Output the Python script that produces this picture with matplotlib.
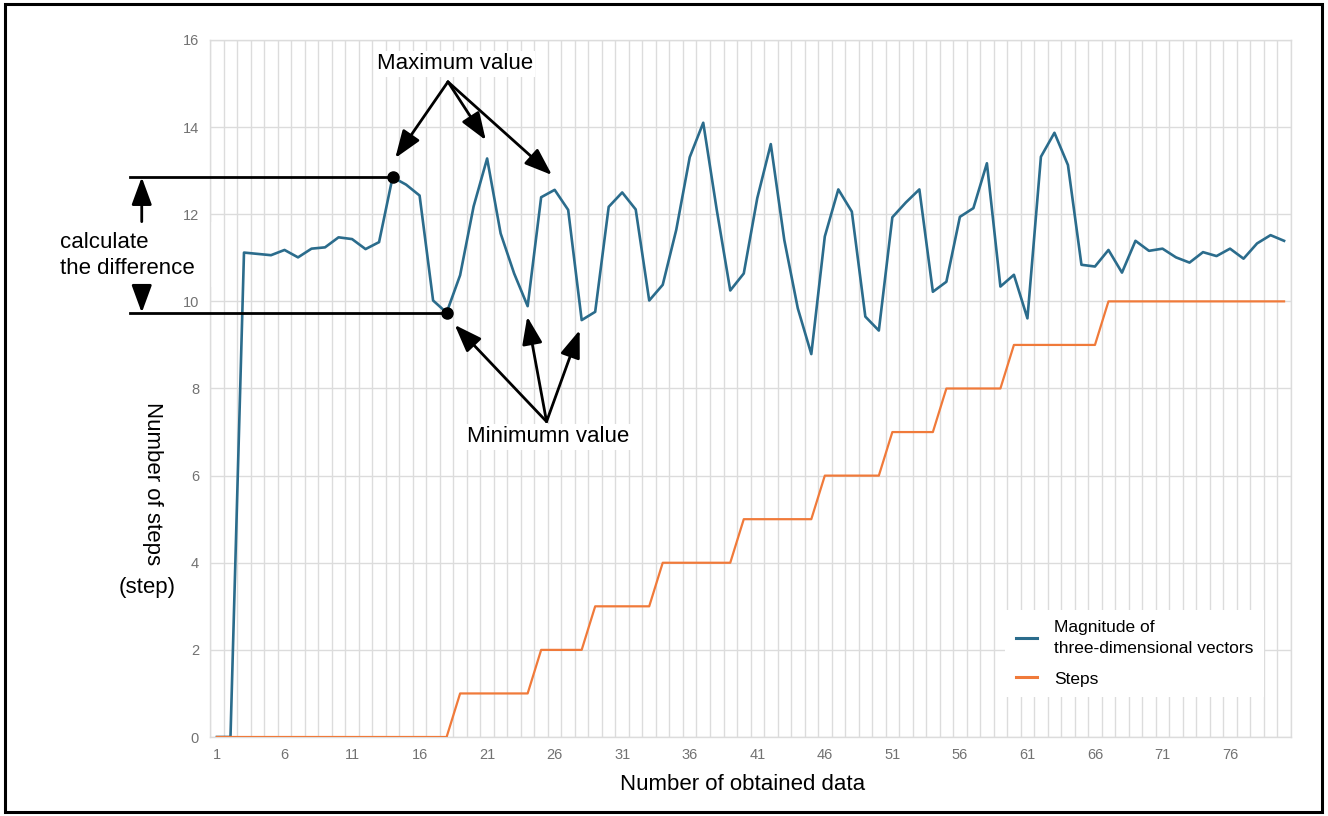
import numpy as np
import matplotlib
matplotlib.use("Agg")
import matplotlib.pyplot as plt
from matplotlib.patches import Rectangle

plt.rcParams["font.family"] = ["Liberation Sans", "DejaVu Sans"]

# --- data ---
samples = np.arange(1, 81)
magnitude = [0, 0, 11.12, 11.09, 11.06, 11.18, 11.01, 11.21, 11.24, 11.47,
             11.43, 11.20, 11.36, 12.85, 12.68, 12.43, 10.02, 9.74, 10.60, 12.18,
             13.28, 11.56, 10.64, 9.89, 12.39, 12.56, 12.10, 9.57, 9.76, 12.17,
             12.50, 12.11, 10.02, 10.38, 11.64, 13.31, 14.10, 12.10, 10.25, 10.64,
             12.37, 13.61, 11.41, 9.84, 8.79, 11.49, 12.57, 12.06, 9.65, 9.33,
             11.93, 12.27, 12.57, 10.22, 10.45, 11.94, 12.14, 13.17, 10.34, 10.61,
             9.61, 13.32, 13.87, 13.13, 10.84, 10.80, 11.18, 10.66, 11.39, 11.16,
             11.21, 11.01, 10.89, 11.13, 11.04, 11.21, 10.98, 11.33, 11.52, 11.39]
steps = [0, 0, 0, 0, 0, 0, 0, 0, 0, 0,
         0, 0, 0, 0, 0, 0, 0, 0, 1, 1,
         1, 1, 1, 1, 2, 2, 2, 2, 3, 3,
         3, 3, 3, 4, 4, 4, 4, 4, 4, 5,
         5, 5, 5, 5, 5, 6, 6, 6, 6, 6,
         7, 7, 7, 7, 8, 8, 8, 8, 8, 9,
         9, 9, 9, 9, 9, 9, 10, 10, 10, 10,
         10, 10, 10, 10, 10, 10, 10, 10, 10, 10]
xticks = [1, 6, 11, 16, 21, 26, 31, 36, 41, 46, 51, 56, 61, 66, 71, 76]
max_idx = [14, 21, 26]
min_idx = [18, 24, 28]

BLUE = "#2b6c8c"
ORANGE = "#f07a3a"
GRID = "#dcdcdc"

fig = plt.figure(figsize=(13.28, 8.16), dpi=100)
ax = fig.add_axes([0.1583, 0.0968, 0.8137, 0.8542])

ax.plot(samples, magnitude, color=BLUE, lw=1.9, zorder=3,
        label="Magnitude of\nthree-dimensional vectors")
ax.plot(samples, steps, color=ORANGE, lw=1.6, zorder=3, label="Steps")

ax.set_xlim(0.5, 80.5)
ax.set_ylim(0, 16)
ax.set_xticks(xticks)
ax.set_xticks(np.arange(0.5, 81, 1), minor=True)
ax.set_yticks(np.arange(0, 17, 2))
ax.tick_params(which="both", length=0, labelsize=10.5, labelcolor="#727272", pad=8)
ax.set_axisbelow(True)
ax.grid(axis="x", which="minor", color=GRID, lw=1)
ax.grid(axis="y", which="major", color=GRID, lw=1)
for s in ax.spines.values():
    s.set_color(GRID)
    s.set_linewidth(1)

# --- labels ---
fig.text(743 / 1328, 1 - 785 / 816, "Number of obtained data", fontsize=16,
         ha="center", va="center")
fig.text(153 / 1328, 1 - 484 / 816, "Number of steps", fontsize=16,
         ha="center", va="center", rotation=270)
fig.text(147 / 1328, 1 - 587 / 816, "(step)", fontsize=16, ha="center", va="center")

# --- annotations ---
y_max = magnitude[max_idx[0] - 1]
y_min = magnitude[min_idx[0] - 1]
x_left = -5.45
ax.plot([x_left, max_idx[0]], [y_max, y_max], color="black", lw=2, clip_on=False, zorder=5)
ax.plot([x_left, min_idx[0]], [y_min, y_min], color="black", lw=2, clip_on=False, zorder=5)
ax.plot([max_idx[0], min_idx[0]], [y_max, y_min], "o", color="black", ms=8,
        clip_on=False, zorder=6)

arrow = dict(arrowstyle="-|>,head_length=0.6,head_width=0.22", color="black", lw=2,
             mutation_scale=28, shrinkA=0, shrinkB=0)
x_arr = -4.57
ax.annotate("", xy=(x_arr, y_max), xytext=(x_arr, 11.83), arrowprops=arrow,
            annotation_clip=False, zorder=5)
ax.annotate("", xy=(x_arr, y_min), xytext=(x_arr, 10.30), arrowprops=arrow,
            annotation_clip=False, zorder=5)

# white patch behind the "calculate the difference" text
ax.add_patch(Rectangle((-10.5, 10.32), 11.7, 1.5, facecolor="white",
                       edgecolor="none", clip_on=False, zorder=1))
ax.text(-10.6, 11.05, "calculate\nthe difference", fontsize=16, ha="left",
        va="center", linespacing=1.3, zorder=5)

ax.text(18.6, 15.45, "Maximum value", fontsize=16, ha="center", va="center", zorder=5,
        bbox=dict(facecolor="white", edgecolor="none", pad=2))
max_origin = (18.1, 15.04)
max_tips = [(14.2, 13.29), (20.9, 13.70), (25.8, 12.90)]
for tip in max_tips:
    ax.annotate("", xy=tip, xytext=max_origin, arrowprops=arrow, zorder=5)

ax.text(25.5, 6.89, "Minimumn value", fontsize=16, ha="center", va="center", zorder=5,
        bbox=dict(facecolor="white", edgecolor="none", pad=2))
min_origin = (25.4, 7.24)
min_tips = [(18.6, 9.46), (23.97, 9.65), (27.85, 9.34)]
for tip in min_tips:
    ax.annotate("", xy=tip, xytext=min_origin, arrowprops=arrow, zorder=5)

leg = ax.legend(loc="lower right", bbox_to_anchor=(0.983, 0.045), fontsize=12.5,
                frameon=True, facecolor="white", edgecolor="none", framealpha=1,
                fancybox=False, handlelength=1.2, handletextpad=1.0,
                labelspacing=0.9, borderpad=0.6)
for t in leg.get_texts():
    t.set_linespacing(1.45)
for line in leg.get_lines():
    line.set_linewidth(2.2)

# outer black frame
fig.patches.append(Rectangle((5 / 1328, 4 / 816), 1317 / 1328, 808 / 816,
                             transform=fig.transFigure, fill=False,
                             edgecolor="black", lw=2.2))

fig.savefig("out.png", dpi=100)
